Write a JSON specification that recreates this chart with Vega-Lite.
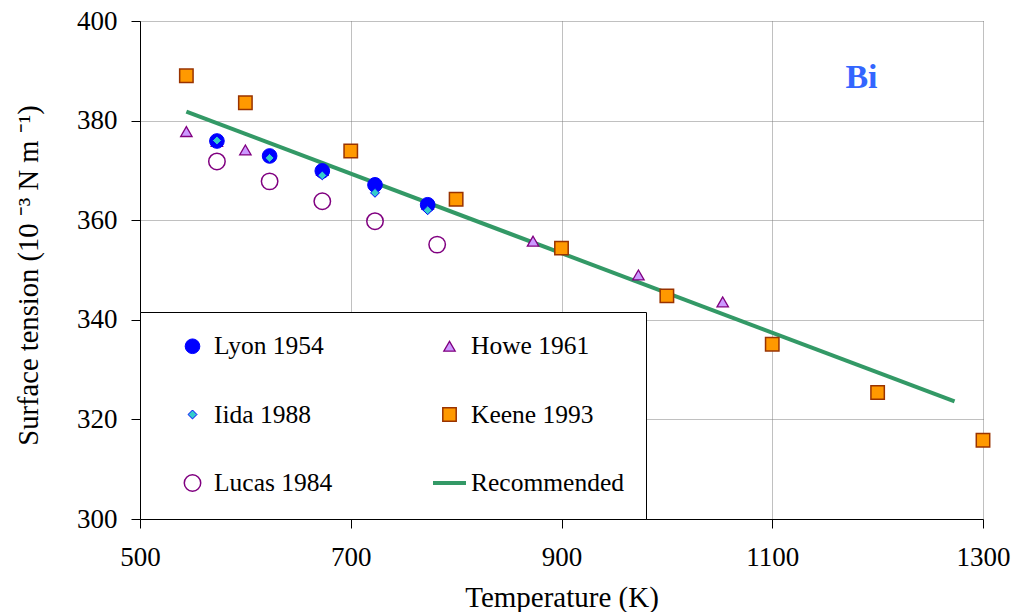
{
  "$schema": "https://vega.github.io/schema/vega-lite/v6.json",
  "width": 843,
  "height": 498,
  "autosize": "none",
  "padding": {"left": 140, "top": 21, "right": 31, "bottom": 93},
  "background": "white",
  "config": {
    "view": {"stroke": null},
    "font": "Liberation Serif",
    "axis": {
      "labelFont": "Liberation Serif",
      "titleFont": "Liberation Serif",
      "labelColor": "black",
      "titleColor": "black",
      "titleFontWeight": "normal",
      "domainColor": "black",
      "tickColor": "black",
      "gridColor": "#808080",
      "gridDash": [1, 1],
      "gridWidth": 1
    }
  },
  "datasets": {
    "measured": [
      {"series": "Lucas 1984", "T": 573, "gamma": 371.8},
      {"series": "Lucas 1984", "T": 623, "gamma": 367.8},
      {"series": "Lucas 1984", "T": 673, "gamma": 363.8},
      {"series": "Lucas 1984", "T": 723, "gamma": 359.8},
      {"series": "Lucas 1984", "T": 782, "gamma": 355.1},
      {"series": "Keene 1993", "T": 544, "gamma": 389.0},
      {"series": "Keene 1993", "T": 600, "gamma": 383.6},
      {"series": "Keene 1993", "T": 700, "gamma": 373.9},
      {"series": "Keene 1993", "T": 800, "gamma": 364.2},
      {"series": "Keene 1993", "T": 900, "gamma": 354.4},
      {"series": "Keene 1993", "T": 1000, "gamma": 344.8},
      {"series": "Keene 1993", "T": 1100, "gamma": 335.1},
      {"series": "Keene 1993", "T": 1200, "gamma": 325.4},
      {"series": "Keene 1993", "T": 1300, "gamma": 315.8},
      {"series": "Howe 1961", "T": 544, "gamma": 377.8},
      {"series": "Howe 1961", "T": 573, "gamma": 375.8},
      {"series": "Howe 1961", "T": 600, "gamma": 374.1},
      {"series": "Howe 1961", "T": 673, "gamma": 370.0},
      {"series": "Howe 1961", "T": 773, "gamma": 363.2},
      {"series": "Howe 1961", "T": 873, "gamma": 355.8},
      {"series": "Howe 1961", "T": 973, "gamma": 349.0},
      {"series": "Howe 1961", "T": 1053, "gamma": 343.6},
      {"series": "Lyon 1954", "T": 573, "gamma": 375.9},
      {"series": "Lyon 1954", "T": 623, "gamma": 372.9},
      {"series": "Lyon 1954", "T": 673, "gamma": 369.9},
      {"series": "Lyon 1954", "T": 723, "gamma": 367.1},
      {"series": "Lyon 1954", "T": 773, "gamma": 363.1},
      {"series": "Iida 1988", "T": 573, "gamma": 376.0},
      {"series": "Iida 1988", "T": 623, "gamma": 372.5},
      {"series": "Iida 1988", "T": 673, "gamma": 369.0},
      {"series": "Iida 1988", "T": 723, "gamma": 365.5},
      {"series": "Iida 1988", "T": 773, "gamma": 362.0}
    ],
    "recommended": [
      {"series": "Recommended", "T": 544, "gamma": 381.8},
      {"series": "Recommended", "T": 1273, "gamma": 323.6}
    ],
    "element": [
      {"T": 1184.7, "gamma": 386.5, "label": "Bi"}
    ]
  },
  "layer": [
    {
      "data": {"name": "recommended"},
      "mark": {"type": "line", "strokeCap": "butt"},
      "encoding": {
        "x": {
          "field": "T", "type": "quantitative",
          "scale": {"domain": [500, 1300], "nice": false},
          "axis": {
            "values": [500, 700, 900, 1100, 1300],
            "format": "d",
            "title": "Temperature (K)",
            "titleFont": "Liberation Serif",
            "labelFont": "Liberation Serif",
            "titleFontSize": 29,
            "titlePadding": 13,
            "labelFontSize": 27,
            "labelPadding": 16,
            "tickSize": 9,
            "labelFlush": false
          }
        },
        "y": {
          "field": "gamma", "type": "quantitative",
          "scale": {"domain": [300, 400], "nice": false, "zero": false},
          "axis": {
            "values": [300, 320, 340, 360, 380, 400],
            "format": "d",
            "title": "Surface tension (10 ⁻³ N m ⁻¹)",
            "titleFont": "Liberation Serif",
            "labelFont": "Liberation Serif",
            "titleFontSize": 28.6,
            "titlePadding": 33,
            "titleY": 254,
            "labelFontSize": 27,
            "labelPadding": 14,
            "tickSize": 9,
            "labelFlush": false
          }
        },
        "stroke": {
          "field": "series", "type": "nominal", "title": null,
          "scale": {
            "domain": ["Lyon 1954", "Iida 1988", "Lucas 1984", "Howe 1961", "Keene 1993", "Recommended"],
            "range": ["#0000ff", "#0000ff", "#800080", "#800080", "#993300", "#339966"]
          }
        },
        "strokeWidth": {
          "field": "series", "type": "nominal", "title": null,
          "scale": {
            "type": "ordinal",
            "domain": ["Lyon 1954", "Iida 1988", "Lucas 1984", "Howe 1961", "Keene 1993", "Recommended"],
            "range": [1, 1, 1.5, 1.3, 1.5, 4]
          }
        }
      }
    },
    {
      "mark": {"type": "rule", "color": "black", "strokeWidth": 1},
      "encoding": {
        "x": {"datum": 1300, "type": "quantitative"}
      }
    },
    {
      "data": {"name": "measured"},
      "mark": {"type": "point", "opacity": 1},
      "encoding": {
        "x": {"field": "T", "type": "quantitative"},
        "y": {"field": "gamma", "type": "quantitative"},
        "shape": {
          "field": "series", "type": "nominal", "title": null,
          "scale": {
            "domain": ["Lyon 1954", "Iida 1988", "Lucas 1984", "Howe 1961", "Keene 1993", "Recommended"],
            "range": ["circle", "diamond", "circle", "triangle-up", "square", "stroke"]
          },
          "legend": {
            "orient": "none",
            "legendX": 0,
            "legendY": 291,
            "columns": 2,
            "fillColor": "white",
            "strokeColor": "black",
            "padding": 22,
            "clipHeight": 24,
            "symbolOffset": 12,
            "labelOffset": 3,
            "columnPadding": 86,
            "rowPadding": 42.5,
            "labelFont": "Liberation Serif",
            "labelFontSize": 25.5,
            "labelColor": "black",
            "labelLimit": 0,
            "symbolOpacity": 1
          }
        },
        "fill": {
          "field": "series", "type": "nominal", "title": null,
          "scale": {
            "domain": ["Lyon 1954", "Iida 1988", "Lucas 1984", "Howe 1961", "Keene 1993", "Recommended"],
            "range": ["#0000ff", "#33cccc", "transparent", "#cc99ff", "#ff9900", "#339966"]
          }
        },
        "stroke": {
          "field": "series", "type": "nominal", "title": null,
          "scale": {
            "domain": ["Lyon 1954", "Iida 1988", "Lucas 1984", "Howe 1961", "Keene 1993", "Recommended"],
            "range": ["#0000ff", "#0000ff", "#800080", "#800080", "#993300", "#339966"]
          }
        },
        "strokeWidth": {
          "field": "series", "type": "nominal", "title": null,
          "scale": {
            "type": "ordinal",
            "domain": ["Lyon 1954", "Iida 1988", "Lucas 1984", "Howe 1961", "Keene 1993", "Recommended"],
            "range": [1, 1, 1.5, 1.3, 1.5, 4]
          }
        },
        "size": {
          "field": "series", "type": "nominal", "title": null,
          "scale": {
            "type": "ordinal",
            "domain": ["Lyon 1954", "Iida 1988", "Lucas 1984", "Howe 1961", "Keene 1993", "Recommended"],
            "range": [215, 80, 270, 130, 180, 1089]
          }
        }
      }
    },
    {
      "data": {"name": "element"},
      "mark": {
        "type": "text",
        "font": "Liberation Serif",
        "fontWeight": "bold",
        "fontSize": 34,
        "color": "#3366ff",
        "align": "center",
        "baseline": "alphabetic"
      },
      "encoding": {
        "x": {"field": "T", "type": "quantitative"},
        "y": {"field": "gamma", "type": "quantitative"},
        "text": {"field": "label"}
      }
    }
  ]
}
